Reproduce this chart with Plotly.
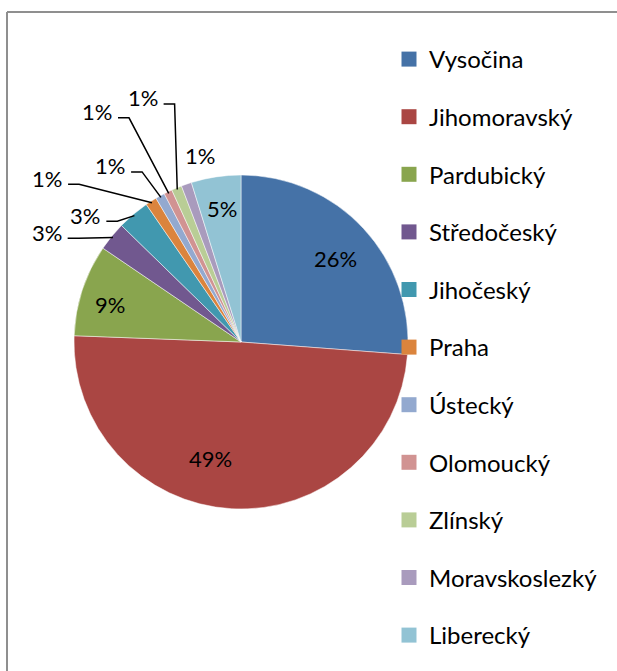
import math
import plotly.graph_objects as go

# ---------------- data ----------------
regions = ["Vysočina", "Jihomoravský", "Pardubický", "Středočeský", "Jihočeský",
           "Praha", "Ústecký", "Olomoucký", "Zlínský", "Moravskoslezký", "Liberecký"]
shares = [26.2, 49.4, 8.9, 2.8, 3.1, 1.1, 0.9, 0.8, 1.0, 1.0, 4.8]

# ---------------- style ----------------
colors = ["#4572A7", "#AA4643", "#89A54E", "#71588F", "#4198AF", "#DB843D",
          "#93A9CF", "#D19392", "#B9CD96", "#A99BBD", "#92C3D4"]
W, H = 617, 671
CX, CY, R = 241, 342, 167          # pie centre / radius in pixels
FONT = "Lato"
FS = 22
LFS = 24
# label placement: (radial fraction, dx px, dy px, leader line?)
label_style = [
    (0.75, 3, 2, False),
    (0.75, -23, -9, False),
    (0.75, -12, 2, False),
    (1.0, -65, -4, True),
    (1.0, -48, 1, True),
    (1.0, -104, -23, True),
    (1.0, -50, -30, True),
    (1.0, -71, -80, True),
    (1.0, -34, -90, True),
    (1.0, 14, -29, False),
    (0.75, 0, -10, False),
]


def px(x):
    return x / W


def py(y):
    return 1 - y / H


fig = go.Figure()
fig.add_trace(go.Pie(
    labels=regions, values=shares, sort=False, direction="clockwise", rotation=0,
    marker=dict(colors=colors, line=dict(color="rgba(255,255,255,0.7)", width=0.7)),
    textinfo="none", hoverinfo="label+percent", showlegend=False,
    domain=dict(x=[px(CX - R), px(CX + R)], y=[py(CY + R), py(CY - R)]),
))

# legend entries (one group per region so spacing can be set)
for name, c in zip(regions, colors):
    fig.add_trace(go.Scatter(
        x=[None], y=[None], mode="markers", name=name, legendgroup=name,
        marker=dict(symbol="square", size=15, color=c), hoverinfo="skip",
    ))

total = sum(shares)
annotations = []
shapes = []
cum = 0.0
for name, v, st in zip(regions, shares, label_style):
    frac, dx, dy, leader = st
    mid = (cum + v / 2) / total * 2 * math.pi
    cum += v
    ex = CX + R * frac * math.sin(mid)
    ey = CY - R * frac * math.cos(mid)
    lx, ly = ex + dx, ey + dy
    pct = f"{round(v / total * 100)}%"
    annotations.append(dict(
        x=px(lx), y=py(ly), xref="paper", yref="paper", text=pct, showarrow=False,
        xanchor="center", yanchor="middle", font=dict(family=FONT, size=FS, color="black"),
    ))
    if leader:
        sx, sy = lx + 21, ly + 6
        kx = sx + 11
        tx = CX + R * 0.99 * math.sin(mid)
        ty = CY - R * 0.99 * math.cos(mid)
        shapes.append(dict(
            type="path", xref="paper", yref="paper",
            path=f"M {px(sx)},{py(sy)} L {px(kx)},{py(sy)} L {px(tx)},{py(ty)}",
            line=dict(color="black", width=1.5),
        ))

# chart frame (only top and left edges fall inside the picture)
frame_line = dict(color="#8f8f8f", width=2)
shapes.append(dict(type="line", xref="paper", yref="paper", layer="below",
                   x0=px(7), y0=py(12), x1=1.0, y1=py(12), line=frame_line))
shapes.append(dict(type="line", xref="paper", yref="paper", layer="below",
                   x0=px(7), y0=py(12), x1=px(7), y1=0.0, line=frame_line))

fig.update_layout(
    width=W, height=H, autosize=False,
    margin=dict(l=0, r=0, t=0, b=0),
    paper_bgcolor="white", plot_bgcolor="white",
    xaxis=dict(visible=False), yaxis=dict(visible=False),
    font=dict(family=FONT, size=FS, color="black"),
    legend=dict(x=px(389), y=py(37), xanchor="left", yanchor="top",
                tracegroupgap=23.4, itemsizing="trace",
                font=dict(family=FONT, size=LFS, color="black"),
                bgcolor="rgba(0,0,0,0)"),
    annotations=annotations, shapes=shapes,
)

fig.write_html(
    "out.html",
    config={"displayModeBar": False},
    post_script=(
        "document.documentElement.style.margin='0';"
        "document.documentElement.style.overflow='hidden';"
        "document.body.style.margin='0';document.body.style.overflow='hidden';"
    ),
)
